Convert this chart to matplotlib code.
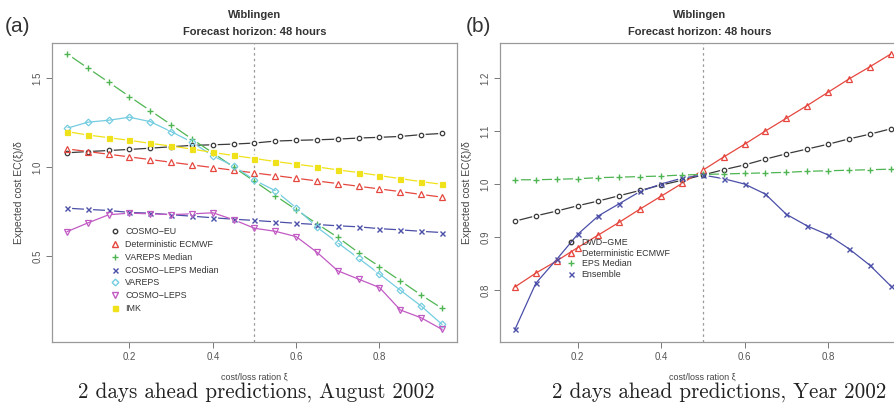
import matplotlib
matplotlib.use("Agg")
import matplotlib.pyplot as plt
from matplotlib.lines import Line2D
import numpy as np

xi = [0.05, 0.10, 0.15, 0.20, 0.25, 0.30, 0.35, 0.40, 0.45, 0.50,
      0.55, 0.60, 0.65, 0.70, 0.75, 0.80, 0.85, 0.90, 0.95]

# Panel (a): August 2002
cosmo_eu = [1.081, 1.088, 1.094, 1.100, 1.107, 1.115, 1.123, 1.126, 1.130, 1.136,
            1.147, 1.151, 1.154, 1.158, 1.164, 1.168, 1.173, 1.183, 1.190]
det_ecmwf_a = [1.103, 1.088, 1.073, 1.058, 1.043, 1.028, 1.013, 0.998, 0.983, 0.968,
               0.953, 0.938, 0.923, 0.908, 0.893, 0.878, 0.863, 0.847, 0.832]
vareps_median = [1.638, 1.557, 1.478, 1.397, 1.318, 1.239, 1.158, 1.081, 1.000, 0.921,
                 0.840, 0.761, 0.682, 0.606, 0.520, 0.442, 0.362, 0.282, 0.207]
cosmo_leps_median = [0.770, 0.763, 0.757, 0.746, 0.742, 0.733, 0.725, 0.716, 0.708, 0.701,
                     0.693, 0.685, 0.678, 0.671, 0.665, 0.655, 0.648, 0.640, 0.633]
vareps = [1.219, 1.253, 1.264, 1.281, 1.256, 1.200, 1.141, 1.064, 1.007, 0.927,
          0.868, 0.772, 0.663, 0.575, 0.488, 0.400, 0.309, 0.220, 0.117]
cosmo_leps = [0.638, 0.687, 0.733, 0.742, 0.738, 0.734, 0.738, 0.744, 0.705, 0.657,
              0.640, 0.610, 0.522, 0.418, 0.371, 0.324, 0.198, 0.154, 0.089]
imk = [1.200, 1.181, 1.166, 1.151, 1.134, 1.119, 1.102, 1.083, 1.066, 1.049,
       1.032, 1.017, 1.002, 0.985, 0.970, 0.953, 0.936, 0.919, 0.904]

# Panel (b): Year 2002
dwd_gme = [0.930, 0.940, 0.949, 0.959, 0.968, 0.978, 0.988, 0.998, 1.007, 1.017,
           1.027, 1.036, 1.047, 1.057, 1.066, 1.075, 1.085, 1.094, 1.104]
det_ecmwf_b = [0.806, 0.832, 0.855, 0.880, 0.904, 0.928, 0.953, 0.977, 1.001, 1.026,
               1.051, 1.075, 1.100, 1.124, 1.148, 1.173, 1.198, 1.221, 1.245]
eps_median = [1.008, 1.008, 1.009, 1.010, 1.012, 1.013, 1.014, 1.015, 1.017, 1.018,
              1.019, 1.020, 1.021, 1.022, 1.024, 1.025, 1.026, 1.027, 1.028]
ensemble = [0.726, 0.813, 0.858, 0.905, 0.940, 0.963, 0.986, 1.000, 1.011, 1.017,
            1.010, 1.000, 0.981, 0.943, 0.921, 0.904, 0.878, 0.847, 0.808]

labels_a = ["COSMO\u2212EU", "Deterministic ECMWF", "VAREPS Median",
            "COSMO\u2212LEPS Median", "VAREPS", "COSMO\u2212LEPS", "IMK"]
labels_b = ["DWD\u2212GME", "Deterministic ECMWF", "EPS Median", "Ensemble"]

yticks_a = [0.5, 1.0, 1.5]
yticks_b = [0.8, 0.9, 1.0, 1.1, 1.2]
xticks = [0.2, 0.4, 0.6, 0.8]

C_BLACK = "#3a3a3a"
C_RED = "#e5473f"
C_GREEN = "#4fb552"
C_BLUE = "#4b4fa8"
C_CYAN = "#74cde0"
C_MAG = "#c25ac4"
C_YEL = "#f0e21a"

plt.rcParams['font.family'] = ['Liberation Sans', 'DejaVu Sans']

W, H = 895, 405
fig = plt.figure(figsize=(W / 100, H / 100), dpi=100)

def fx(px):
    return px / W

def fy(py):
    return 1 - py / H

ax1 = fig.add_axes([fx(52), fy(342), fx(457) - fx(52), fy(43) - fy(342)])
ax2 = fig.add_axes([fx(500), fy(342), fx(905.6) - fx(500), fy(43) - fy(342)])


def series(ax, y, color, marker, ms, gaps=True, mew=0.9, fill='none'):
    ax.plot(xi, y, color=color, lw=0.9, zorder=2)
    if gaps:
        ax.plot(xi, y, linestyle='none', marker='o', ms=ms + 3.0,
                mfc='white', mec='none', zorder=3)
    ax.plot(xi, y, linestyle='none', marker=marker, ms=ms, mfc=fill,
            mec=color, mew=mew, zorder=4)


def style(ax, yticks, ylim):
    ax.set_xlim(0.014, 0.986)
    ax.set_ylim(*ylim)
    ax.set_xticks(xticks)
    ax.set_xticklabels([f"{t:.1f}" for t in xticks])
    ax.set_yticks(yticks)
    ax.set_yticklabels([f"{t:.1f}" for t in yticks])
    for lab in ax.get_yticklabels():
        lab.set_rotation(90)
        lab.set_va('center')
    ax.tick_params(direction='out', length=4, width=0.7, colors='#777777',
                   labelcolor='#555555', labelsize=7, pad=3)
    for s in ax.spines.values():
        s.set_color('#999999')
        s.set_linewidth(0.9)
    ax.axvline(0.5, color='#999999', lw=0.9, ls=(0, (2, 2.5)), zorder=1)
    ax.set_xlabel("cost/loss ration \u03be", fontsize=6.5, color='#444444', labelpad=8)
    ax.set_ylabel("Expected cost EC(\u03be)/\u03b4", fontsize=7.5, color='#444444', labelpad=6)


# Panel (a)
series(ax1, cosmo_eu, C_BLACK, 'o', 3.2)
series(ax1, det_ecmwf_a, C_RED, '^', 3.8)
series(ax1, vareps_median, C_GREEN, '+', 5.0, mew=1.0)
series(ax1, cosmo_leps_median, C_BLUE, 'x', 3.6, mew=1.0)
series(ax1, vareps, C_CYAN, 'D', 3.4, gaps=False)
series(ax1, cosmo_leps, C_MAG, 'v', 3.8, gaps=False)
series(ax1, imk, C_YEL, 's', 3.6, fill=C_YEL)
style(ax1, yticks_a, (0.018, 1.698))

hand_a = [
    Line2D([], [], ls='none', marker='o', ms=3.2, mfc='none', mec=C_BLACK),
    Line2D([], [], ls='none', marker='^', ms=3.8, mfc='none', mec=C_RED),
    Line2D([], [], ls='none', marker='+', ms=5.0, mec=C_GREEN),
    Line2D([], [], ls='none', marker='x', ms=3.6, mec=C_BLUE),
    Line2D([], [], ls='none', marker='D', ms=3.4, mfc='none', mec=C_CYAN),
    Line2D([], [], ls='none', marker='s' if False else 'v', ms=3.8, mfc='none', mec=C_MAG),
    Line2D([], [], ls='none', marker='s', ms=3.6, mfc=C_YEL, mec=C_YEL),
]
ax1.legend(hand_a, labels_a, loc='upper left', bbox_to_anchor=(0.135, 0.395),
           frameon=False, fontsize=6.4, handlelength=1.0, handletextpad=0.7,
           labelspacing=0.42, borderaxespad=0, labelcolor='#333333')

# Panel (b)
series(ax2, dwd_gme, C_BLACK, 'o', 3.2)
series(ax2, det_ecmwf_b, C_RED, '^', 3.8, gaps=False)
series(ax2, eps_median, C_GREEN, '+', 5.0, mew=1.0)
series(ax2, ensemble, C_BLUE, 'x', 3.6, gaps=False, mew=1.0)
style(ax2, yticks_b, (0.702, 1.266))

hand_b = [
    Line2D([], [], ls='none', marker='o', ms=3.2, mfc='none', mec=C_BLACK),
    Line2D([], [], ls='none', marker='^', ms=3.8, mfc='none', mec=C_RED),
    Line2D([], [], ls='none', marker='+', ms=5.0, mec=C_GREEN),
    Line2D([], [], ls='none', marker='x', ms=3.6, mec=C_BLUE),
]
ax2.legend(hand_b, labels_b, loc='upper left', bbox_to_anchor=(0.155, 0.36),
           frameon=False, fontsize=6.4, handlelength=1.0, handletextpad=0.7,
           labelspacing=0.2, borderaxespad=0, labelcolor='#333333')

# Titles
for cx, lab, lx in [((52 + 457) / 2, "(a)", 5), ((500 + 905.6) / 2 - 3, "(b)", 466)]:
    fig.text(fx(cx), fy(15), "Wiblingen", ha='center', va='center',
             fontsize=8, fontweight='bold', color='#333333')
    fig.text(fx(cx), fy(32), "Forecast horizon: 48 hours", ha='center', va='center',
             fontsize=8, fontweight='bold', color='#333333')
    fig.text(fx(lx), fy(27), lab, ha='left', va='center', fontsize=15, color='#333333')

# Captions
fig.text(fx(256), fy(392), "2 days ahead predictions, August 2002", ha='center',
         va='center', fontsize=15.2, family='cmr10', color='#222222')
fig.text(fx(719), fy(392), "2 days ahead predictions, Year 2002", ha='center',
         va='center', fontsize=15.2, family='cmr10', color='#222222')

fig.savefig("out.png", dpi=100)
